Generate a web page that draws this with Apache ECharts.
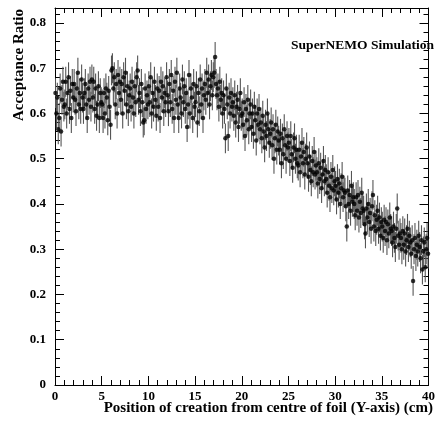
<!DOCTYPE html>
<html><head><meta charset="utf-8">
<script src="https://cdn.jsdelivr.net/npm/echarts@6/dist/echarts.min.js"></script>
<style>html,body{margin:0;padding:0;background:#fff}#c{width:438px;height:423px}</style>
</head><body><div id="c"></div>
<script>
// bin layout: 400 bins of 0.1 cm from 0 to 40 cm
const binStart = 0;
const binWidth = 0.1;
// acceptance ratio per bin
const ratio = [
0.645,0.60,0.635,0.565,0.59,0.655,0.56,0.63,0.67,0.615,
0.62,0.67,0.60,0.645,0.68,0.61,0.65,0.59,0.665,0.635,
0.665,0.63,0.605,0.655,0.69,0.62,0.645,0.61,0.675,0.635,
0.61,0.645,0.665,0.62,0.59,0.655,0.63,0.67,0.615,0.675,
0.635,0.67,0.61,0.655,0.595,0.62,0.66,0.59,0.645,0.625,
0.62,0.59,0.645,0.60,0.655,0.635,0.585,0.65,0.615,0.575,
0.695,0.70,0.655,0.68,0.62,0.665,0.60,0.685,0.645,0.67,
0.63,0.665,0.60,0.68,0.65,0.69,0.62,0.66,0.605,0.64,
0.655,0.615,0.67,0.635,0.60,0.66,0.625,0.68,0.695,0.63,
0.645,0.605,0.665,0.625,0.58,0.585,0.655,0.61,0.64,0.62,
0.66,0.625,0.68,0.60,0.645,0.615,0.67,0.63,0.595,0.655,
0.615,0.65,0.59,0.67,0.635,0.66,0.605,0.645,0.625,0.68,
0.64,0.605,0.665,0.625,0.685,0.61,0.65,0.59,0.67,0.63,
0.69,0.62,0.59,0.655,0.635,0.60,0.675,0.625,0.66,0.61,
0.645,0.57,0.62,0.685,0.60,0.655,0.635,0.59,0.665,0.615,
0.625,0.66,0.58,0.645,0.605,0.675,0.62,0.655,0.59,0.64,
0.665,0.63,0.69,0.645,0.675,0.62,0.66,0.685,0.64,0.68,
0.69,0.725,0.665,0.64,0.655,0.615,0.67,0.63,0.645,0.60,
0.64,0.61,0.545,0.655,0.62,0.55,0.635,0.60,0.645,0.615,
0.625,0.595,0.64,0.58,0.615,0.63,0.57,0.61,0.645,0.595,
0.60,0.575,0.625,0.55,0.61,0.585,0.63,0.565,0.60,0.62,
0.57,0.60,0.555,0.615,0.585,0.54,0.60,0.575,0.61,0.565,
0.58,0.545,0.595,0.56,0.525,0.575,0.55,0.60,0.565,0.535,
0.555,0.58,0.53,0.565,0.50,0.545,0.575,0.52,0.56,0.54,
0.52,0.555,0.49,0.545,0.51,0.565,0.53,0.50,0.55,0.525,
0.535,0.495,0.55,0.51,0.48,0.525,0.545,0.50,0.52,0.49,
0.485,0.52,0.47,0.505,0.535,0.49,0.515,0.465,0.50,0.525,
0.49,0.46,0.505,0.475,0.45,0.495,0.47,0.515,0.465,0.485,
0.47,0.445,0.49,0.455,0.48,0.435,0.465,0.495,0.45,0.475,
0.455,0.425,0.47,0.44,0.415,0.46,0.435,0.475,0.43,0.45,
0.44,0.41,0.455,0.425,0.445,0.40,0.435,0.46,0.415,0.43,
0.425,0.395,0.35,0.43,0.40,0.42,0.385,0.44,0.405,0.415,
0.40,0.375,0.415,0.385,0.42,0.37,0.405,0.38,0.425,0.39,
0.385,0.355,0.335,0.39,0.37,0.40,0.36,0.38,0.345,0.395,
0.42,0.35,0.375,0.34,0.365,0.385,0.345,0.37,0.33,0.36,
0.35,0.325,0.365,0.34,0.36,0.32,0.355,0.335,0.37,0.345,
0.34,0.315,0.35,0.325,0.305,0.345,0.39,0.33,0.31,0.335,
0.325,0.30,0.34,0.31,0.335,0.295,0.32,0.345,0.305,0.33,
0.315,0.29,0.32,0.23,0.30,0.325,0.285,0.31,0.295,0.33,
0.305,0.28,0.32,0.255,0.295,0.315,0.26,0.30,0.325,0.29
];
const errHalf = 0.033;
const xTitle = 'Position of creation from centre of foil (Y-axis) (cm)';
const yTitle = 'Acceptance Ratio';
const tag = 'SuperNEMO Simulation';

const pts = ratio.map((v, i) => [binStart + (i + 0.5) * binWidth, v]);
const bars = ratio.map((v, i) => [binStart + (i + 0.5) * binWidth, v - errHalf, v + errHalf]);

const serif = 'Liberation Serif';
const tickStyle = { color: '#000', width: 1 };
function xAx(pos, show) {
  return {
    type: 'value', min: 0, max: 40, interval: 5, position: pos,
    axisLine: { show: true, onZero: false, lineStyle: tickStyle },
    axisTick: { show: true, inside: true, length: 9, lineStyle: tickStyle },
    minorTick: { show: true, splitNumber: 5, length: 5, lineStyle: tickStyle },
    axisLabel: { show: show, fontFamily: serif, fontWeight: 'bold', fontSize: 13, color: '#000', margin: 5 },
    splitLine: { show: false }
  };
}
function yAx(pos, show) {
  return {
    type: 'value', min: 0, max: 0.833, interval: 0.1, position: pos,
    axisLine: { show: true, onZero: false, lineStyle: tickStyle },
    axisTick: { show: true, inside: true, length: 9, lineStyle: tickStyle },
    minorTick: { show: true, splitNumber: 5, length: 5, lineStyle: tickStyle },
    axisLabel: { show: show, showMaxLabel: false, fontFamily: serif, fontWeight: 'bold', fontSize: 13, color: '#000', margin: 9,
      formatter: v => v === 0 ? '0' : v.toFixed(1) },
    splitLine: { show: false }
  };
}

const chart = echarts.init(document.getElementById('c'), null, { renderer: 'canvas' });
chart.setOption({
  animation: false,
  backgroundColor: '#fff',
  grid: { left: 55, right: 5, top: 8, bottom: 38 },
  xAxis: [xAx('bottom', true), xAx('top', false)],
  yAxis: [yAx('left', true), yAx('right', false)],
  graphic: [
    { type: 'text', right: 5, top: 401, style: { text: xTitle, font: 'bold 15px "Liberation Serif"', fill: '#000' } },
    { type: 'text', x: 19, y: 9, rotation: Math.PI / 2,
      style: { text: yTitle, font: 'bold 15px "Liberation Serif"', fill: '#000', align: 'right', verticalAlign: 'middle' } },
    { type: 'text', x: 434, y: 46, z: 10,
      style: { text: tag, font: 'bold 13.5px "Liberation Serif"', fill: '#000', align: 'right', verticalAlign: 'middle' } }
  ],
  series: [
    {
      type: 'custom', xAxisIndex: 0, yAxisIndex: 0, data: bars, clip: true,
      encode: { x: 0, y: [1, 2] },
      renderItem: (params, api) => {
        const a = api.coord([api.value(0), api.value(1)]);
        const b = api.coord([api.value(0), api.value(2)]);
        return { type: 'line', shape: { x1: a[0], y1: a[1], x2: b[0], y2: b[1] },
          style: { stroke: '#555555', lineWidth: 1.1 } };
      }
    },
    {
      type: 'scatter', xAxisIndex: 0, yAxisIndex: 0, data: pts,
      symbol: 'circle', symbolSize: 4.5, itemStyle: { color: '#000' }, z: 3
    }
  ]
});
</script></body></html>
